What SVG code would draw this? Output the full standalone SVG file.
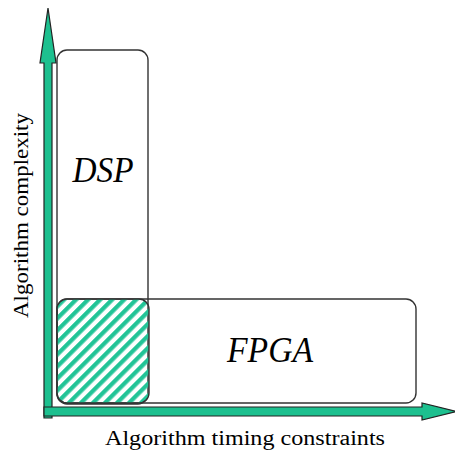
<svg xmlns="http://www.w3.org/2000/svg" width="455" height="452" viewBox="0 0 455 452">
<style>
.box{fill:none;stroke:#333;stroke-width:1.4}
.arrow{fill:#1dc08f;stroke:#222;stroke-width:1.2;stroke-linejoin:miter}
.big{font-family:"Liberation Serif",serif;font-style:italic;font-size:36px;fill:#000}
.lab{font-family:"Liberation Serif",serif;font-size:20px;fill:#000}
</style>
<defs>
<pattern id="hatch" patternUnits="userSpaceOnUse" width="8.5" height="8.5" patternTransform="rotate(45)">
<rect x="0" y="0" width="4.3" height="8.5" fill="#22c497"/>
</pattern>
</defs>
<rect width="455" height="452" fill="#fff"/>
<g id="dsp">
<rect class="box" x="57" y="50" width="91" height="354" rx="10" ry="10"/>
<text class="big" x="103" y="182" text-anchor="middle" textLength="61" lengthAdjust="spacingAndGlyphs">DSP</text>
</g>
<g id="fpga">
<rect class="box" x="57" y="299" width="359" height="104" rx="10" ry="10"/>
<text class="big" x="270" y="362" text-anchor="middle" textLength="86" lengthAdjust="spacingAndGlyphs">FPGA</text>
</g>
<g id="overlap">
<rect x="57" y="299" width="92" height="104" rx="10" ry="10" fill="url(#hatch)" stroke="#333" stroke-width="1.4"/>
</g>
<g id="connectors">
<polygon class="arrow" points="44,418 44,63 40,63 48,8 56,63 52,63 52,418"/>
<polygon class="arrow" points="44,407 422,407 422,403 457,411.5 422,420 422,416 44,416"/>
</g>
<g id="labels">
<text class="lab" x="245" y="445" text-anchor="middle" textLength="280" lengthAdjust="spacingAndGlyphs">Algorithm timing constraints</text>
<text class="lab" x="0" y="0" text-anchor="middle" textLength="205" lengthAdjust="spacingAndGlyphs" transform="translate(28,215.5) rotate(-90)">Algorithm complexity</text>
</g>
</svg>
